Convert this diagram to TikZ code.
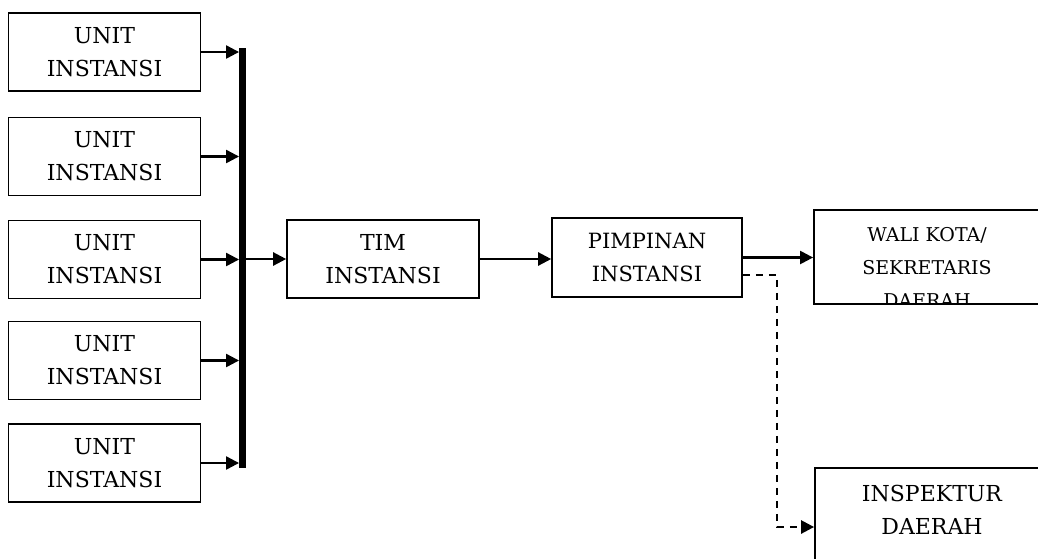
\documentclass[tikz,border=0pt]{standalone}
\usepackage{fontspec}
\setmainfont{DejaVu Serif}
\usepackage{tikz}
\usetikzlibrary{positioning}
\usetikzlibrary{arrows.meta}

\begin{document}
\begin{tikzpicture}[x=1pt,y=-1pt,>={Triangle[length=13pt,width=13pt]},
  kotak/.style={draw,line width=1.6pt,minimum width=192pt,minimum height=78pt,inner sep=0pt,align=center,font=\fontsize{22}{33}\selectfont},
  tulisan/.style={anchor=north,inner sep=0pt,align=center},
  panah/.style={->,line width=2.3pt},
  putus/.style={->,line width=2.5pt,dash pattern=on 7pt off 6pt}]
\clip (0,0) rectangle (1038,558);
\foreach \y [count=\i] in {52,156.5,259.5,360.5,463}
  \node[kotak] (unit\i) at (104.5,\y) {UNIT\\INSTANSI};
\node[draw,fill=black,minimum width=5.5pt,minimum height=419pt,inner sep=0pt] (bus) at (242,257.5) {};
\foreach \i in {1,...,5}
  \draw[panah] (unit\i.east) -- (unit\i.east -| bus.west);
\node[kotak] (tim) at (383,259) {TIM\\INSTANSI};
\draw[panah] (bus.east |- tim.west) -- (tim.west);
\node[kotak,minimum width=190pt,minimum height=79pt,font=\fontsize{21}{33}\selectfont] (pimpinan) at (647,257.5) {PIMPINAN\\INSTANSI};
\draw[panah] (tim.east) -- (tim.east -| pimpinan.west);
\node[draw,line width=1.8pt,minimum width=226pt,minimum height=94pt] (wali) at (927,257) {};
\begin{scope}
  \clip (wali.south west) rectangle (wali.north east);
  \node[tulisan,font=\fontsize{19}{33}\selectfont] (walitext) at (927,227) {WALI KOTA/\\SEKRETARIS\\DAERAH};
\end{scope}
\draw[panah] (pimpinan.east) -- (pimpinan.east -| wali.west);
\node[draw,line width=1.8pt,minimum width=234pt,minimum height=118pt] (inspektur) at (932,527) {};
\node[tulisan,font=\fontsize{22}{33}\selectfont] (inspekturtext) at (932,485) {INSPEKTUR\\DAERAH};
\coordinate (belok) at (777,275);
\draw[putus] (pimpinan.east |- belok) -- (belok) |- (inspektur.west);
\end{tikzpicture}
\end{document}
